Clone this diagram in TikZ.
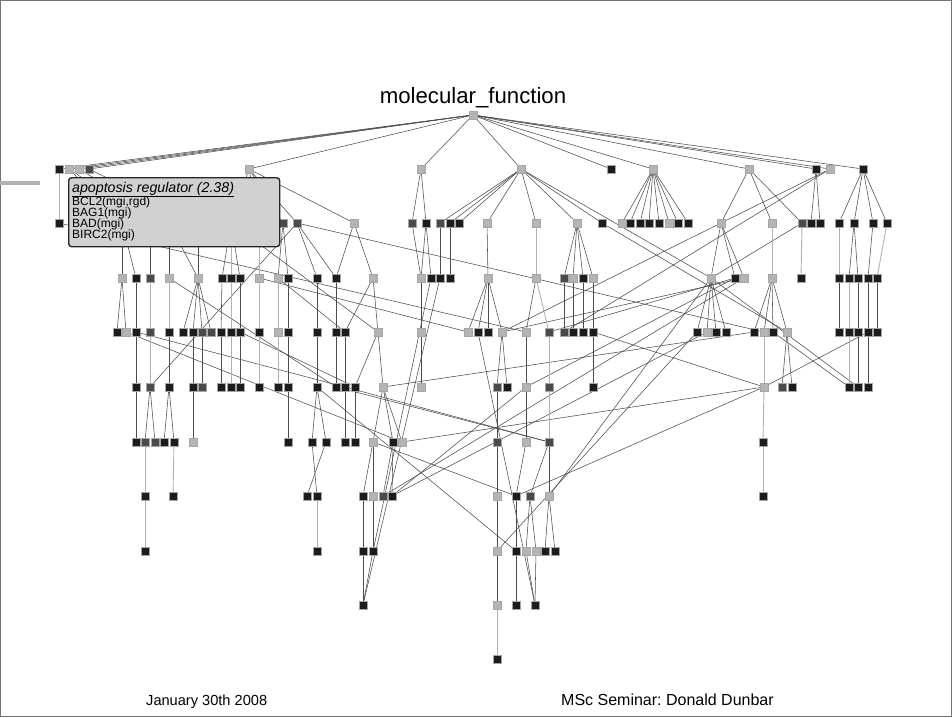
\documentclass[tikz,border=0pt]{standalone}
\usepackage{fontspec}
\setmainfont{Liberation Sans}
\usetikzlibrary{backgrounds}
\frenchspacing
\definecolor{termk}{HTML}{1C1C1C}
\definecolor{termd}{HTML}{4A4A4A}
\definecolor{terml}{HTML}{B4B4B4}
\tikzset{
  term/.style={draw=black!35, line width=.4pt, minimum size=8pt, inner sep=0pt, fill=term#1},
  link/.style={draw=black!70, line width=.55pt},
  palelink/.style={draw=black!30, line width=.9pt},
  tipbox/.style={draw=black!85, line width=1.4pt, rounded corners=3pt, fill=black!18, anchor=north west, minimum width=211pt, minimum height=69pt, inner sep=0pt},
  gene/.style={anchor=base west, inner sep=0pt, font=\fontsize{12}{12}\selectfont},
}
\begin{document}
\begin{tikzpicture}[x=1pt,y=-1pt]
    \useasboundingbox (0,0) rectangle (952,717);
    \draw[black!55, line width=.8pt] (0.5,0.5) rectangle (951.5,716.5);
    \draw[black!30, line width=4pt] (0,183) -- (40,183);

    \node[anchor=base, inner sep=0pt, font=\fontsize{22.2}{24}\selectfont] (title) at (473,103) {molecular\_function};

    % GO terms, row by row
    \node[term=l] (t0-473) at (473,115) {};
    \foreach \x/\c in {59/k,69/l,79/l,89/d,249/l,421/l,521/l,611/k,653/l,749/l,816/k,830/l,863/k}
        \node[term=\c] (t1-\x) at (\x,169) {};
    \foreach \x/\c in {59/k,122/l,150/d,169/l,198/l,231/k,259/l,283/d,297/d,354/l,412/d,426/k,440/d,450/k,459/k,487/l,536/l,577/l,602/k,
                       622/l,630/k,640/k,649/k,659/k,669/l,678/k,688/k,721/l,772/l,802/d,811/k,820/k,839/k,854/k,873/k,887/k}
        \node[term=\c] (t2-\x) at (\x,223) {};
    \foreach \x/\c in {122/l,136/k,150/d,169/l,198/l,222/k,231/k,240/k,259/l,278/l,288/k,317/k,336/k,373/l,421/l,431/k,440/k,450/k,
                       488/l,536/l,564/d,573/l,583/k,593/l,711/l,735/k,744/l,772/l,801/k,839/k,849/k,858/k,868/k,877/k}
        \node[term=\c] (t3-\x) at (\x,278) {};
    \foreach \x/\c in {117/k,126/l,136/k,150/d,169/k,183/k,193/k,202/d,211/d,221/k,231/k,240/k,259/k,278/l,288/k,317/k,336/k,345/k,
                       378/l,421/l,468/l,478/k,488/k,502/l,526/l,549/d,564/d,573/k,583/k,593/k,697/k,707/l,716/k,726/k,
                       754/k,764/l,773/k,787/l,839/k,849/k,858/k,868/k,877/k}
        \node[term=\c] (t4-\x) at (\x,332) {};
    \foreach \x/\c in {136/k,150/d,169/k,193/k,202/d,221/k,231/k,240/k,259/k,278/k,288/k,317/k,336/k,345/k,355/k,383/l,421/l,
                       497/d,507/k,526/l,549/d,593/k,764/l,782/d,792/k,849/k,858/k,868/k}
        \node[term=\c] (t5-\x) at (\x,387) {};
    \foreach \x/\c in {136/k,145/d,155/d,164/k,174/k,193/l,288/k,312/k,326/k,345/k,355/k,373/l,393/k,402/l,497/d,526/l,549/d,763/k}
        \node[term=\c] (t6-\x) at (\x,442) {};
    \foreach \x/\c in {145/k,173/k,307/k,317/k,363/k,373/l,383/d,392/k,497/l,516/k,530/d,549/l,763/k}
        \node[term=\c] (t7-\x) at (\x,496) {};
    \foreach \x/\c in {145/k,317/k,363/k,373/k,497/l,516/k,526/l,536/l,545/k,555/k}
        \node[term=\c] (t8-\x) at (\x,551) {};
    \foreach \x/\c in {363/k,497/l,516/k,535/k}
        \node[term=\c] (t9-\x) at (\x,605) {};
    \node[term=k] (t10-497) at (497,659) {};

    \begin{scope}[on background layer]
    % is_a links
    \foreach \a/\b in {0-473/1-59,0-473/1-69,0-473/1-79,0-473/1-89,0-473/1-249,0-473/1-421,0-473/1-521,0-473/1-611,0-473/1-653,
                       0-473/1-749,0-473/1-816,0-473/1-830,0-473/1-863,
                       1-69/2-122,1-69/2-150,1-79/2-169,1-89/2-198,1-249/2-231,1-249/2-259,1-249/2-283,1-249/2-297,1-249/2-354,
                       1-421/2-412,1-421/2-426,1-521/2-440,1-521/2-450,1-521/2-459,1-521/2-487,1-521/2-536,1-521/2-577,1-521/2-602,
                       1-653/2-622,1-653/2-630,1-653/2-640,1-653/2-649,1-653/2-659,1-653/2-669,1-653/2-678,1-653/2-688,
                       1-749/2-721,1-749/2-772,1-749/2-802,1-816/2-811,1-816/2-820,1-830/2-721,
                       1-863/2-839,1-863/2-854,1-863/2-873,1-863/2-887,1-521/3-711,1-830/4-564,
                       2-122/3-122,2-122/3-136,2-150/3-150,2-169/3-169,2-169/3-198,2-198/3-198,2-231/3-222,2-231/3-240,
                       2-283/3-278,2-283/3-288,2-297/3-317,2-297/3-336,2-354/3-336,2-354/3-373,2-412/3-421,2-426/3-421,2-426/3-431,
                       2-440/3-440,2-450/3-450,2-487/3-488,2-577/3-564,2-577/3-573,2-577/3-583,2-577/3-593,
                       2-721/3-711,2-721/3-735,2-721/3-744,2-802/3-711,2-854/3-849,2-854/3-858,2-873/3-868,
                       2-297/4-764,2-297/5-150,2-59/4-526,2-231/4-378,2-721/4-502,2-602/4-787,
                       3-122/4-117,3-122/4-126,3-136/4-136,3-198/4-183,3-198/4-193,3-198/4-202,3-198/4-211,3-222/4-221,
                       3-240/4-240,3-288/4-288,3-317/4-317,3-336/4-336,3-373/4-345,3-373/4-378,3-421/4-421,
                       3-488/4-468,3-488/4-478,3-488/4-488,3-488/4-502,3-536/4-526,3-564/4-564,3-573/4-573,3-583/4-583,
                       3-593/4-593,3-711/4-697,3-711/4-707,3-711/4-716,3-711/4-726,3-772/4-754,3-772/4-764,3-772/4-773,
                       3-772/4-787,3-839/4-839,3-858/4-858,3-868/4-868,3-877/4-877,
                       3-169/5-336,3-278/4-345,3-259/4-468,3-744/4-502,3-735/4-549,3-735/5-526,3-711/7-549,3-711/5-858,
                       3-431/8-373,3-440/9-363,3-744/7-383,
                       4-136/5-136,4-169/5-169,4-193/5-193,4-202/5-202,4-221/5-221,4-240/5-240,4-288/5-288,4-317/5-317,
                       4-336/5-336,4-345/5-345,4-378/5-355,4-378/5-383,4-421/5-421,4-502/5-497,4-502/5-507,4-526/5-526,
                       4-593/5-593,4-787/5-782,4-787/5-792,4-858/5-858,4-868/5-868,
                       4-126/6-402,4-136/5-345,4-240/5-355,4-773/5-849,4-868/5-764,4-593/5-764,4-478/9-535,4-697/8-497,4-707/7-392,
                       5-136/6-136,5-150/6-145,5-150/6-155,5-169/6-164,5-169/6-174,5-193/6-193,5-288/6-288,5-317/6-312,
                       5-317/6-326,5-345/6-345,5-355/6-355,5-383/6-373,5-383/6-393,5-383/6-402,5-497/6-497,5-526/6-526,
                       5-383/4-754,5-336/6-549,5-345/6-549,5-317/8-516,5-526/7-392,6-402/5-764,
                       6-312/7-317,6-326/7-307,6-373/7-363,6-373/7-373,6-393/7-383,6-393/7-392,6-497/7-497,6-526/7-516,
                       6-549/7-530,6-549/7-549,7-516/5-764,6-373/7-516,
                       7-363/8-363,7-373/8-373,7-497/8-497,7-516/8-516,7-530/8-526,7-530/8-536,7-549/8-545,7-549/8-555,
                       8-363/9-363,8-373/9-363,8-497/9-497,8-516/9-516,8-526/9-535,8-536/9-535}
        \draw[link] (t\a) -- (t\b);
    % lighter links
    \foreach \a/\b in {1-59/2-59,2-231/3-231,2-259/3-259,2-536/3-536,2-772/3-772,2-802/3-801,2-839/3-839,2-887/3-877,
                       3-150/4-150,3-169/4-169,3-231/4-231,3-259/4-259,3-278/4-278,3-536/4-549,3-849/4-849,
                       4-150/5-150,4-231/5-231,4-259/5-259,4-278/5-278,4-549/5-549,4-764/5-764,4-849/5-849,
                       5-549/6-549,5-764/6-763,6-145/7-145,6-174/7-173,6-763/7-763,7-145/8-145,7-317/8-317,9-497/10-497}
        \draw[palelink] (t\a) -- (t\b);
    \end{scope}

    % tooltip over the left branch
    \node[tipbox] (tip) at (68,177) {};
    \node[anchor=base west, inner sep=0pt, font=\fontsize{14.2}{15}\selectfont] (tiptitle) at (72,192)
        {\underline{\textit{apoptosis regulator (2.38)}}};
    \node[gene] (g1) at (72,205) {BCL2(mgi,rgd)};
    \node[gene] (g2) at (72,216) {BAG1(mgi)};
    \node[gene] (g3) at (72,227) {BAD(mgi)};
    \node[gene] (g4) at (72,238) {BIRC2(mgi)};

    \node[anchor=base west, inner sep=0pt, font=\fontsize{14.6}{16}\selectfont] (date) at (146,705) {January 30th 2008};
    \node[anchor=base west, inner sep=0pt, font=\fontsize{16}{17}\selectfont] (talk) at (561,705) {MSc Seminar: Donald Dunbar};
\end{tikzpicture}
\end{document}
